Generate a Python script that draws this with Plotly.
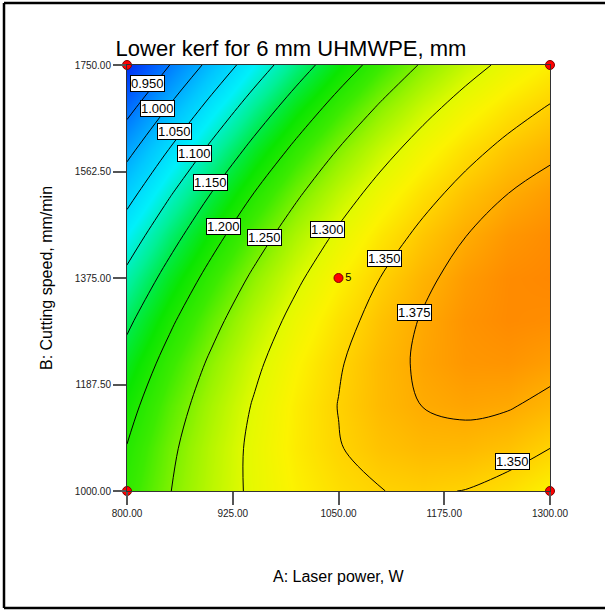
import plotly.graph_objects as go

# ---- data ----
laser_power = [800, 850, 900, 950, 1000, 1050, 1100, 1150, 1200, 1250, 1300]          # A, W
cutting_speed = [1000, 1075, 1150, 1225, 1300, 1375, 1450, 1525, 1600, 1675, 1750]    # B, mm/min

# lower kerf (mm); one row per cutting speed (bottom to top), one column per laser power
lower_kerf = [
    [1.2108, 1.2485, 1.2804, 1.3065, 1.3267, 1.3411, 1.3497, 1.3525, 1.3494, 1.3405, 1.3258],
    [1.2015, 1.2425, 1.2778, 1.3072, 1.3308, 1.3485, 1.3605, 1.3666, 1.3669, 1.3614, 1.3500],
    [1.1868, 1.2313, 1.2698, 1.3026, 1.3296, 1.3507, 1.3660, 1.3754, 1.3791, 1.3769, 1.3689],
    [1.1669, 1.2147, 1.2566, 1.2927, 1.3230, 1.3475, 1.3661, 1.3789, 1.3859, 1.3871, 1.3824],
    [1.1416, 1.1927, 1.2380, 1.2775, 1.3111, 1.3389, 1.3609, 1.3771, 1.3875, 1.3920, 1.3907],
    [1.1110, 1.1655, 1.2141, 1.2569, 1.2939, 1.3251, 1.3505, 1.3700, 1.3837, 1.3916, 1.3936],
    [1.0751, 1.1329, 1.1849, 1.2311, 1.2714, 1.3059, 1.3346, 1.3575, 1.3746, 1.3858, 1.3912],
    [1.0338, 1.0950, 1.1504, 1.1999, 1.2436, 1.2815, 1.3135, 1.3397, 1.3601, 1.3747, 1.3835],
    [0.9873, 1.0518, 1.1105, 1.1634, 1.2104, 1.2517, 1.2871, 1.3166, 1.3404, 1.3583, 1.3704],
    [0.9354, 1.0033, 1.0653, 1.1216, 1.1720, 1.2165, 1.2553, 1.2882, 1.3153, 1.3366, 1.3521],
    [0.8782, 0.9494, 1.0148, 1.0744, 1.1282, 1.1761, 1.2182, 1.2545, 1.2850, 1.3096, 1.3284],
]

# design points (corners + centre point with 5 replicates)
design_A = [800, 800, 1300, 1300, 1050]
design_B = [1000, 1750, 1000, 1750, 1375]
design_reps = ["", "", "", "", "5"]

# contour levels drawn
contour_levels_regular = (0.95, 1.35, 0.05)   # start, end, step
contour_level_extra = 1.375

# contour label texts and where they sit (A, B)
label_text = ["0.950", "1.000", "1.050", "1.100", "1.150", "1.200", "1.250",
              "1.300", "1.350", "1.375", "1.350"]
label_A = [824.5, 836.5, 856.5, 879.5, 898.5, 914, 962, 1037, 1104, 1139.5, 1256]
label_B = [1718, 1673, 1633, 1595, 1544, 1465, 1446, 1461, 1410, 1315, 1052]

x_tick_vals = [800, 925, 1050, 1175, 1300]
y_tick_vals = [1000, 1187.5, 1375, 1562.5, 1750]

# colour map (value -> colour)
color_values = [0.878, 0.92, 0.975, 1.025, 1.075, 1.12, 1.15, 1.18, 1.22, 1.26, 1.30,
                1.325, 1.35, 1.375, 1.394]
color_list = ["rgb(0,45,240)", "rgb(0,90,255)", "rgb(0,150,255)", "rgb(0,200,255)",
              "rgb(0,240,250)", "rgb(0,240,150)", "rgb(0,235,70)", "rgb(10,230,0)",
              "rgb(60,235,0)", "rgb(150,243,0)", "rgb(225,250,0)", "rgb(252,243,0)",
              "rgb(255,210,0)", "rgb(255,172,0)", "rgb(255,135,0)"]

zlo, zhi = color_values[0], color_values[-1]
colorscale = [[(v - zlo) / (zhi - zlo), c] for v, c in zip(color_values, color_list)]

FONT = "Liberation Sans, Arial, sans-serif"

fig = go.Figure()

fig.add_trace(go.Heatmap(
    x=laser_power, y=cutting_speed, z=lower_kerf,
    zmin=zlo, zmax=zhi, colorscale=colorscale, zsmooth="best",
    showscale=False, hoverinfo="skip"))

fig.add_trace(go.Contour(
    x=laser_power, y=cutting_speed, z=lower_kerf,
    autocontour=False,
    contours=dict(start=contour_levels_regular[0], end=contour_levels_regular[1] + 1e-6,
                  size=contour_levels_regular[2], coloring="none", showlabels=False),
    line=dict(color="black", width=1, smoothing=1.0),
    showscale=False, hoverinfo="skip"))

fig.add_trace(go.Contour(
    x=laser_power, y=cutting_speed, z=lower_kerf,
    autocontour=False,
    contours=dict(start=contour_level_extra, end=contour_level_extra + 0.001,
                  size=0.1, coloring="none", showlabels=False),
    line=dict(color="black", width=1, smoothing=1.0),
    showscale=False, hoverinfo="skip"))

fig.add_trace(go.Scatter(
    x=design_A, y=design_B, mode="markers+text", text=design_reps,
    textposition="middle right", textfont=dict(family=FONT, size=11, color="black"),
    marker=dict(color="red", size=9, line=dict(color="#800000", width=1)),
    cliponaxis=False, hoverinfo="skip", showlegend=False))

for t, a, b in zip(label_text, label_A, label_B):
    fig.add_annotation(x=a, y=b, xref="x", yref="y", text=t, showarrow=False,
                       font=dict(family=FONT, size=13, color="black"),
                       bgcolor="white", bordercolor="black", borderwidth=1, borderpad=0)

# axis titles
fig.add_annotation(x=0.5, y=(491 - 576) / 426, xref="paper", yref="paper",
                   text="A: Laser power, W", showarrow=False, yanchor="middle",
                   font=dict(family=FONT, size=16, color="black"))
fig.add_annotation(x=(46 - 127) / 423, y=0.5, xref="paper", yref="paper",
                   text="B: Cutting speed, mm/min", showarrow=False, textangle=-90,
                   xanchor="center", font=dict(family=FONT, size=16, color="black"))

# outer frame: left, top and bottom edges
fx0, fx1 = (4 - 127) / 423, (605 - 127) / 423
fy0, fy1 = (491 - 608) / 426, (491 - 3) / 426
frame_line = dict(color="black", width=2.5)
fig.add_shape(type="line", xref="paper", yref="paper", x0=fx0, x1=fx0, y0=fy0, y1=fy1, line=frame_line)
fig.add_shape(type="line", xref="paper", yref="paper", x0=fx0, x1=fx1, y0=fy1, y1=fy1, line=frame_line)
fig.add_shape(type="line", xref="paper", yref="paper", x0=fx0, x1=fx1, y0=fy0, y1=fy0, line=frame_line)

axis_common = dict(showgrid=False, zeroline=False, showline=True, linecolor="#333",
                   linewidth=1, mirror=True, ticks="outside", ticklen=13,
                   tickcolor="#555", tickwidth=1.5, tickformat=".2f",
                   tickfont=dict(family=FONT, size=10, color="#222"))

fig.update_layout(
    width=605, height=612,
    margin=dict(l=127, r=55, t=65, b=121),
    paper_bgcolor="white", plot_bgcolor="white",
    showlegend=False,
    title=dict(text="Lower kerf for 6 mm UHMWPE, mm", x=291 / 605, xanchor="center",
               y=1 - 48 / 612, yanchor="middle", xref="container", yref="container",
               font=dict(family=FONT, size=22, color="black")),
    xaxis=dict(range=[800, 1300], tickvals=x_tick_vals, **axis_common),
    yaxis=dict(range=[1000, 1750], tickvals=y_tick_vals, **axis_common),
)

fig.write_html("out.html",
               config={"displayModeBar": False},
               post_script="document.body.style.margin='0';"
                           "document.body.style.overflow='hidden';")
